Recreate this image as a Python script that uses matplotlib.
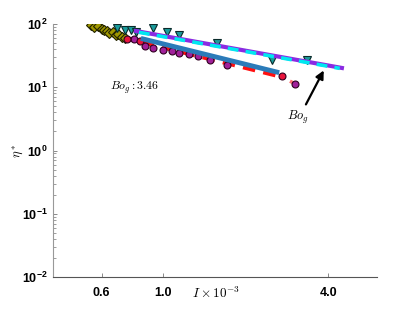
import numpy as np
import matplotlib.pyplot as plt
from matplotlib.ticker import FixedLocator, NullLocator, LogLocator

plt.rcParams['mathtext.fontset'] = 'cm'
plt.rcParams['font.family'] = ['Liberation Sans', 'DejaVu Sans']

# diamonds (olive)
dia_x = [0.55, 0.565, 0.58, 0.60, 0.61, 0.626, 0.64, 0.66, 0.675, 0.69, 0.71, 0.73]
dia_y = [96, 90, 93, 83, 80, 77.5, 72, 75, 67, 69, 62, 60]

# triangles (teal)
tri_x = [0.68, 0.73, 0.77, 0.80, 0.92, 1.04, 1.15, 1.57, 2.49, 3.34]
tri_y = [86, 80, 80, 74, 86, 75, 67, 50, 27, 27]

# red circles
red_x = [0.74, 0.825, 2.71]
red_y = [58, 53, 15.2]

# purple circles
pur_x = [0.79, 0.86, 0.92, 1.0, 1.08, 1.15, 1.25, 1.34, 1.48, 1.71, 3.02]
pur_y = [57, 45, 42, 39, 37.5, 35, 33.5, 31, 27, 22.5, 11.4]

# fit lines
vio_x = [0.80, 4.48]
vio_y = [77.5, 20.2]
cya_x = [0.82, 4.40]
cya_y = [74, 19.9]
blu_x = [0.85, 2.6]
blu_y = [58, 17.4]
rdl_x = [0.71, 2.71]
rdl_y = [62, 14.6]
pkl_x = [2.71, 3.02]
pkl_y = [14.6, 11.4]

xticks = [0.6, 1.0, 4.0]
xticklabels = ['0.6', '1.0', '4.0']

fig = plt.figure(figsize=(4.15, 3.12), dpi=100)
ax = fig.add_axes([0.128, 0.112, 0.78, 0.811])
ax.set_xscale('log')
ax.set_yscale('log')

ax.plot(rdl_x, rdl_y, '--', color='#ff1010', lw=3, dashes=(3, 2), zorder=2)
ax.plot(pkl_x, pkl_y, ':', color='#ff7070', lw=2.5, zorder=2)
ax.plot(dia_x, dia_y, 'D', color='#a09800', mec='#222200', mew=0.8, ms=5, zorder=3)
ax.plot(pur_x, pur_y, 'o', color='#a0209a', mec='#300020', mew=0.8, ms=5, zorder=3)
ax.plot(red_x, red_y, 'o', color='#e8143c', mec='#300020', mew=0.8, ms=5, zorder=3)
ax.plot(tri_x, tri_y, 'v', color='#1a9c9c', mec='#0a2a2a', mew=0.8, ms=5.5, zorder=3)

ax.plot(vio_x, vio_y, '-', color='#8a2be2', lw=3, zorder=4)
ax.plot(cya_x, cya_y, '--', color='#00e8f0', lw=2.6, dashes=(3, 2), zorder=5)
ax.plot(blu_x, blu_y, '-', color='#2b7bb9', lw=3.5, zorder=4)

ax.annotate('', xy=(3.89, 20.2), xytext=(3.28, 4.9),
            arrowprops=dict(arrowstyle='-|>', lw=1.6, color='k', mutation_scale=12))
ax.text(3.1, 3.3, r'$Bo_g$', fontsize=9, ha='center', va='center')
ax.text(0.176, 0.747, r'$Bo_g : 3.46$', fontsize=8.5, transform=ax.transAxes,
        va='center')

ax.set_xlim(0.4, 6.0)
ax.set_ylim(1e-2, 1e2)
ax.xaxis.set_major_locator(FixedLocator(xticks))
ax.xaxis.set_minor_locator(NullLocator())
ax.set_xticklabels(xticklabels)
ax.yaxis.set_major_locator(LogLocator(base=10, numticks=10))
ax.yaxis.set_minor_locator(LogLocator(base=10, subs=np.arange(2, 10), numticks=10))

for s in ['top', 'right']:
    ax.spines[s].set_visible(False)
ax.spines['left'].set_color('#999999')
ax.spines['bottom'].set_color('#555555')
ax.tick_params(which='both', direction='in', colors='#777777', labelcolor='k')
ax.tick_params(which='major', length=3, width=0.6)
ax.tick_params(which='minor', length=2, width=0.5)
ax.tick_params(axis='y', pad=4)
ax.tick_params(axis='x', pad=7)
for lab in ax.get_xticklabels() + ax.get_yticklabels():
    lab.set_fontweight('bold')
    lab.set_fontsize(9)

ax.set_xlabel(r'$I \times 10^{-3}$', fontsize=9.5, va='center')
ax.xaxis.set_label_coords(0.503, -0.063)
ax.set_ylabel(r'$\eta^*$', fontsize=9, va='center')
ax.yaxis.set_label_coords(-0.108, 0.5)

fig.savefig('out.png', dpi=100)
